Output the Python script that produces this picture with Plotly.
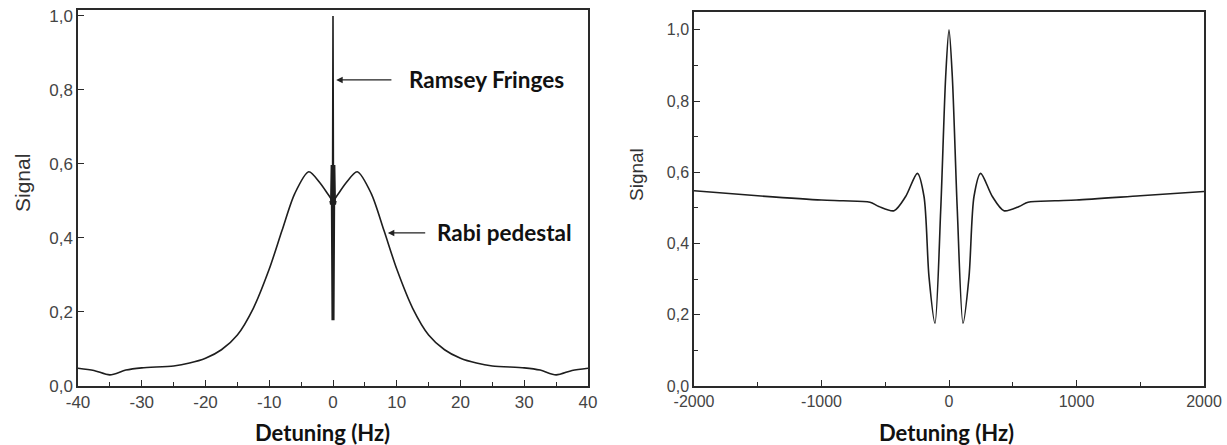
import plotly.graph_objects as go

# ---- Left panel: Rabi pedestal (Hz) ----
pedestal_x = [-40, -37.5, -35, -32.5, -30, -25, -22.5, -20, -17.5, -15, -12.5, -10, -8, -6, -3.8, -2, -0.7, 0,
              0.7, 2, 3.8, 6, 8, 10, 12.5, 15, 17.5, 20, 22.5, 25, 30, 32.5, 35, 37.5, 40]
pedestal_y = [0.048, 0.042, 0.030, 0.043, 0.049, 0.054, 0.062, 0.075, 0.098, 0.138, 0.210, 0.316, 0.420, 0.520,
              0.579, 0.548, 0.516, 0.500,
              0.516, 0.548, 0.579, 0.520, 0.420, 0.316, 0.210, 0.138, 0.098, 0.075, 0.062, 0.054, 0.049, 0.043,
              0.030, 0.042, 0.048]

# Ramsey fringes compressed near zero detuning (left panel)
fringe_left_x = [-0.45, -0.35, -0.25, -0.12, 0, 0.12, 0.25, 0.35, 0.45]
fringe_left_y = [0.50, 0.49, 0.597, 0.178, 1.0, 0.178, 0.597, 0.49, 0.50]

# ---- Right panel: Ramsey fringes zoom ----
ramsey_x = [-2000, -1500, -1000, -830, -620, -550, -431, -340, -248, -196, -157, -110, -65, -26, 0,
            26, 65, 110, 157, 196, 248, 340, 431, 550, 620, 830, 1000, 1500, 2000]
ramsey_y = [0.548, 0.534, 0.522, 0.520, 0.516, 0.504, 0.492, 0.532, 0.597, 0.532, 0.307, 0.176, 0.494, 0.869, 1.0,
            0.869, 0.494, 0.176, 0.307, 0.532, 0.597, 0.532, 0.492, 0.504, 0.516, 0.520, 0.522, 0.534, 0.546]

left_xticks = [-40, -30, -20, -10, 0, 10, 20, 30, 40]
left_xlabels = ["-40", "-30", "-20", "-10", "0", "10", "20", "30", "40"]
right_xticks = [-2000, -1000, 0, 1000, 2000]
right_xlabels = ["-2000", "-1000", "0", "1000", "2000"]
yticks = [0.0, 0.2, 0.4, 0.6, 0.8, 1.0]
ylabels = ["0,0", "0,2", "0,4", "0,6", "0,8", "1,0"]

LINE = "#1e1e1e"
AX = "#2a2a2a"
TICKFONT_L = dict(family="Liberation Sans, Arial, sans-serif", size=17, color="#444")
TICKFONT_R = dict(family="Liberation Sans, Arial, sans-serif", size=16, color="#444")

fig = go.Figure()
fig.add_trace(go.Scatter(x=pedestal_x, y=pedestal_y, mode="lines",
                         line=dict(color=LINE, width=1.6, shape="spline", smoothing=0.8),
                         xaxis="x", yaxis="y", showlegend=False))
fig.add_trace(go.Scatter(x=fringe_left_x, y=fringe_left_y, mode="lines",
                         line=dict(color=LINE, width=1.6),
                         xaxis="x", yaxis="y", showlegend=False))
fig.add_trace(go.Scatter(x=ramsey_x, y=ramsey_y, mode="lines",
                         line=dict(color=LINE, width=1.6, shape="spline", smoothing=0.8),
                         xaxis="x2", yaxis="y2", showlegend=False))

W, H = 1227, 445

axis_common = dict(showline=True, linecolor=AX, linewidth=1.5, mirror=True, ticks="inside",
                   tickcolor=AX, tickwidth=1.3, ticklen=6, showgrid=False, zeroline=False,
                   automargin=False, tickmode="array")
minor_style = dict(ticks="inside", ticklen=4, tickcolor=AX, tickwidth=1.2)

fig.update_layout(
    width=W, height=H,
    margin=dict(l=0, r=0, t=0, b=0, autoexpand=False),
    paper_bgcolor="white", plot_bgcolor="white",
    xaxis=dict(domain=[78 / W, 588 / W], range=[-40, 40], tickvals=left_xticks, ticktext=left_xlabels,
               minor=dict(dtick=5, **minor_style), tickfont=TICKFONT_L,
               anchor="y", **axis_common),
    yaxis=dict(domain=[(H - 386) / H, (H - 10) / H], range=[0, 1.016], tickvals=yticks, ticktext=ylabels,
               tickfont=TICKFONT_L, anchor="x", **axis_common),
    xaxis2=dict(domain=[694 / W, 1204 / W], range=[-2000, 2000], tickvals=right_xticks, ticktext=right_xlabels,
                minor=dict(dtick=500, **minor_style), tickfont=TICKFONT_R,
                anchor="y2", **axis_common),
    yaxis2=dict(domain=[(H - 386) / H, (H - 12) / H], range=[0, 1.05], tickvals=yticks, ticktext=ylabels,
                minor=dict(dtick=0.1, **minor_style), tickfont=TICKFONT_R,
                anchor="x2", **axis_common),
)

title_font = dict(family="Lato, Noto Sans, sans-serif", size=22, color="#111")
note_font = dict(family="Lato, Noto Sans, sans-serif", size=22.5, color="#111")

annotations = [
    dict(text="<b>Detuning (Hz)</b>", x=322 / W, y=(H - 432) / H, xref="paper", yref="paper",
         showarrow=False, font=title_font, xanchor="center", yanchor="middle"),
    dict(text="<b>Detuning (Hz)</b>", x=947 / W, y=(H - 432) / H, xref="paper", yref="paper",
         showarrow=False, font=title_font, xanchor="center", yanchor="middle"),
    dict(text="Signal", x=22 / W, y=(H - 183) / H, xref="paper", yref="paper", textangle=-90,
         showarrow=False, font=dict(family="Liberation Sans, Arial, sans-serif", size=21, color="#333"),
         xanchor="center", yanchor="middle"),
    dict(text="Signal", x=637 / W, y=(H - 175) / H, xref="paper", yref="paper", textangle=-90,
         showarrow=False, font=dict(family="Liberation Sans, Arial, sans-serif", size=19, color="#333"),
         xanchor="center", yanchor="middle"),
    # arrows
    dict(x=0.5, y=0.827, ax=9.4, ay=0.827, xref="x", yref="y", axref="x", ayref="y", text="",
         showarrow=True, arrowhead=2, arrowsize=1, arrowwidth=1.3, arrowcolor="#222"),
    dict(x=8.6, y=0.4135, ax=14.7, ay=0.4135, xref="x", yref="y", axref="x", ayref="y", text="",
         showarrow=True, arrowhead=2, arrowsize=1, arrowwidth=1.3, arrowcolor="#222"),
    dict(text="<b>Ramsey Fringes</b>", x=11.6, y=0.827, xref="x", yref="y", showarrow=False,
         xanchor="left", yanchor="middle", font=note_font),
    dict(text="<b>Rabi pedestal</b>", x=16.0, y=0.4135, xref="x", yref="y", showarrow=False,
         xanchor="left", yanchor="middle", font=note_font),
]
fig.update_layout(annotations=annotations)

fig.write_html("out.html")
